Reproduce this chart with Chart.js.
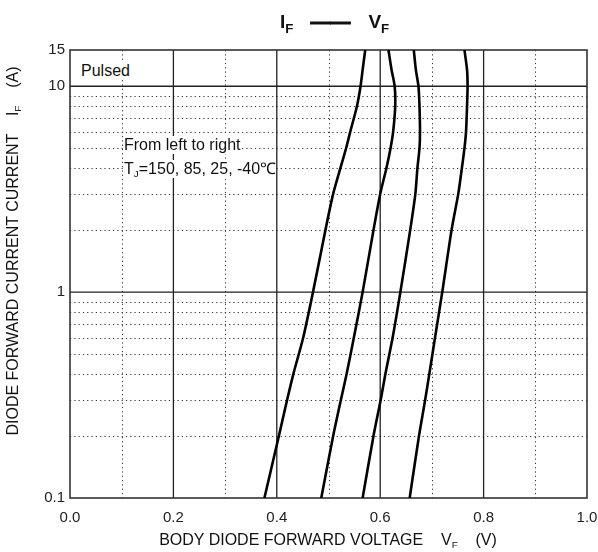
<!DOCTYPE html>
<html>
<head>
<meta charset="utf-8">
<script src="https://cdn.jsdelivr.net/npm/chart.js@4/dist/chart.umd.min.js"></script>
<style>
  html, body { margin: 0; padding: 0; background: #fff; }
  #wrap { position: relative; width: 598px; height: 552px; background: #fff; overflow: hidden; }
  #wrap canvas { position: absolute; left: 0; top: 0; }
  .txt { position: absolute; font-family: "Liberation Sans", Arial, sans-serif; color: #111; white-space: pre; }
  .txt sub { font-size: 62%; vertical-align: -0.35em; line-height: 0; }
  .note { background: #fff; font-size: 16px; line-height: 18px; }
  #title { left: 280px; top: 9px; font-weight: bold; font-size: 19px; line-height: 24px; }
  #title sub { font-size: 70%; vertical-align: -0.4em; }
  #title .dash { -webkit-text-stroke: 0.9px #111; font-size: 20px; margin: 0 18px 0 17px; }
  #xtitle { left: 0; width: 656px; text-align: center; top: 531px; font-size: 16px; line-height: 18px; }
  #ytitle { left: -217px; top: 241px; width: 460px; height: 20px; line-height: 20px; text-align: center; font-size: 16px; transform: rotate(-90deg); transform-origin: 50% 50%; }
</style>
</head>
<body>
<div id="wrap">
  <canvas id="chart" width="598" height="552"></canvas>
  <div class="txt" id="title">I<sub>F</sub><span class="dash">——</span>V<sub>F</sub></div>
  <div class="txt note" id="pulsed" style="left:81px; top:62px;">Pulsed</div>
  <div class="txt note" id="note1" style="left:124px; top:136px;">From left to right</div>
  <div class="txt note" id="note2" style="left:124px; top:160px;">T<sub>J</sub>=150, 85, 25, -40℃</div>
  <div class="txt" id="xtitle">BODY DIODE FORWARD VOLTAGE    V<sub>F</sub>    (V)</div>
  <div class="txt" id="ytitle">DIODE FORWARD CURRENT CURRENT    I<sub>F</sub>    (A)</div>
</div>
<script>
// Forward current levels (A) at which each curve was sampled
const CURRENT = [0.1, 0.2, 0.3, 0.4, 0.6, 1, 2, 3, 4, 5, 6, 8, 10, 12, 15];

// Forward voltage (V) for each junction temperature
const VF_150C = [0.376, 0.404, 0.420, 0.432, 0.451, 0.470, 0.494, 0.509, 0.523, 0.534, 0.542, 0.555, 0.562, 0.566, 0.571];
const VF_85C  = [0.486, 0.509, 0.524, 0.535, 0.549, 0.566, 0.587, 0.600, 0.612, 0.620, 0.625, 0.629, 0.628, 0.622, 0.616];
const VF_25C  = [0.566, 0.587, 0.601, 0.610, 0.624, 0.639, 0.658, 0.668, 0.672, 0.676, 0.677, 0.676, 0.674, 0.669, 0.665];
const VF_M40C = [0.657, 0.675, 0.687, 0.695, 0.706, 0.720, 0.738, 0.751, 0.758, 0.763, 0.766, 0.768, 0.769, 0.768, 0.763];

const SERIES_NAMES = ['150°C', '85°C', '25°C', '-40°C'];

// Axis ticks and grid values
const X_TICKS = [0, 0.2, 0.4, 0.6, 0.8, 1.0];
const X_TICK_LABELS = ['0.0', '0.2', '0.4', '0.6', '0.8', '1.0'];
const Y_TICKS = [0.1, 1, 10, 15];
const Y_TICK_LABELS = ['0.1', '1', '10', '15'];
const X_GRID_MAJOR = [0.2, 0.4, 0.6, 0.8];
const X_GRID_MINOR = [0.1, 0.3, 0.5, 0.7, 0.9];
const Y_GRID_MAJOR = [1, 10];
const Y_GRID_MINOR = [0.2, 0.3, 0.4, 0.5, 0.6, 0.7, 0.8, 0.9, 2, 3, 4, 5, 6, 7, 8, 9];

const toPoints = (vf) => vf.map((v, i) => ({ x: v, y: CURRENT[i] }));

// Dotted minor grid, solid major grid and frame, drawn beneath the curves
const gridPlugin = {
  id: 'diodeGrid',
  beforeDatasetsDraw(chart) {
    const { ctx, chartArea: a, scales: { x, y } } = chart;
    ctx.save();
    ctx.lineWidth = 1;
    ctx.strokeStyle = '#333';
    ctx.setLineDash([1.2, 3.1]);
    ctx.beginPath();
    X_GRID_MINOR.forEach(v => { const px = Math.round(x.getPixelForValue(v)) + 0.5; ctx.moveTo(px, a.top); ctx.lineTo(px, a.bottom); });
    Y_GRID_MINOR.forEach(v => { const py = Math.round(y.getPixelForValue(v)) + 0.5; ctx.moveTo(a.left, py); ctx.lineTo(a.right, py); });
    ctx.stroke();
    ctx.setLineDash([]);
    ctx.strokeStyle = '#222';
    ctx.lineWidth = 1.3;
    ctx.beginPath();
    X_GRID_MAJOR.forEach(v => { const px = x.getPixelForValue(v); ctx.moveTo(px, a.top); ctx.lineTo(px, a.bottom); });
    Y_GRID_MAJOR.forEach(v => { const py = y.getPixelForValue(v); ctx.moveTo(a.left, py); ctx.lineTo(a.right, py); });
    ctx.stroke();
    ctx.strokeStyle = '#333';
    ctx.lineWidth = 1.6;
    ctx.strokeRect(a.left, a.top, a.right - a.left, a.bottom - a.top);
    ctx.restore();
  }
};

const lineStyle = { borderColor: '#000', borderWidth: 2.6, pointRadius: 0, showLine: true, fill: false, tension: 0.25 };

new Chart(document.getElementById('chart'), {
  type: 'scatter',
  data: {
    datasets: [
      { label: SERIES_NAMES[0], data: toPoints(VF_150C), ...lineStyle },
      { label: SERIES_NAMES[1], data: toPoints(VF_85C), ...lineStyle },
      { label: SERIES_NAMES[2], data: toPoints(VF_25C), ...lineStyle },
      { label: SERIES_NAMES[3], data: toPoints(VF_M40C), ...lineStyle }
    ]
  },
  options: {
    responsive: false,
    animation: false,
    layout: { padding: { top: 50, right: 11, left: 0, bottom: 0 } },
    plugins: { legend: { display: false }, tooltip: { enabled: false }, title: { display: false } },
    scales: {
      x: {
        type: 'linear', min: 0, max: 1,
        afterFit(s) { s.height = 54; s.paddingLeft = 0; s.paddingRight = 0; },
        afterBuildTicks(s) { s.ticks = X_TICKS.map(v => ({ value: v })); },
        grid: { display: false, drawTicks: false },
        border: { display: false },
        ticks: {
          padding: 11, color: '#222', maxRotation: 0,
          font: { family: '"Liberation Sans", Arial, sans-serif', size: 15 },
          callback: (v) => X_TICK_LABELS[X_TICKS.findIndex(t => Math.abs(t - v) < 1e-9)]
        }
      },
      y: {
        type: 'logarithmic', min: 0.1, max: 15,
        afterFit(s) { s.width = 70; s.paddingTop = 0; s.paddingBottom = 0; },
        afterBuildTicks(s) { s.ticks = Y_TICKS.map(v => ({ value: v })); },
        grid: { display: false, drawTicks: false },
        border: { display: false },
        ticks: {
          padding: 5, color: '#222', autoSkip: false,
          font: { family: '"Liberation Sans", Arial, sans-serif', size: 15 },
          callback: (v) => Y_TICK_LABELS[Y_TICKS.findIndex(t => Math.abs(t - v) < 1e-9)]
        }
      }
    }
  },
  plugins: [gridPlugin]
});
</script>
</body>
</html>
